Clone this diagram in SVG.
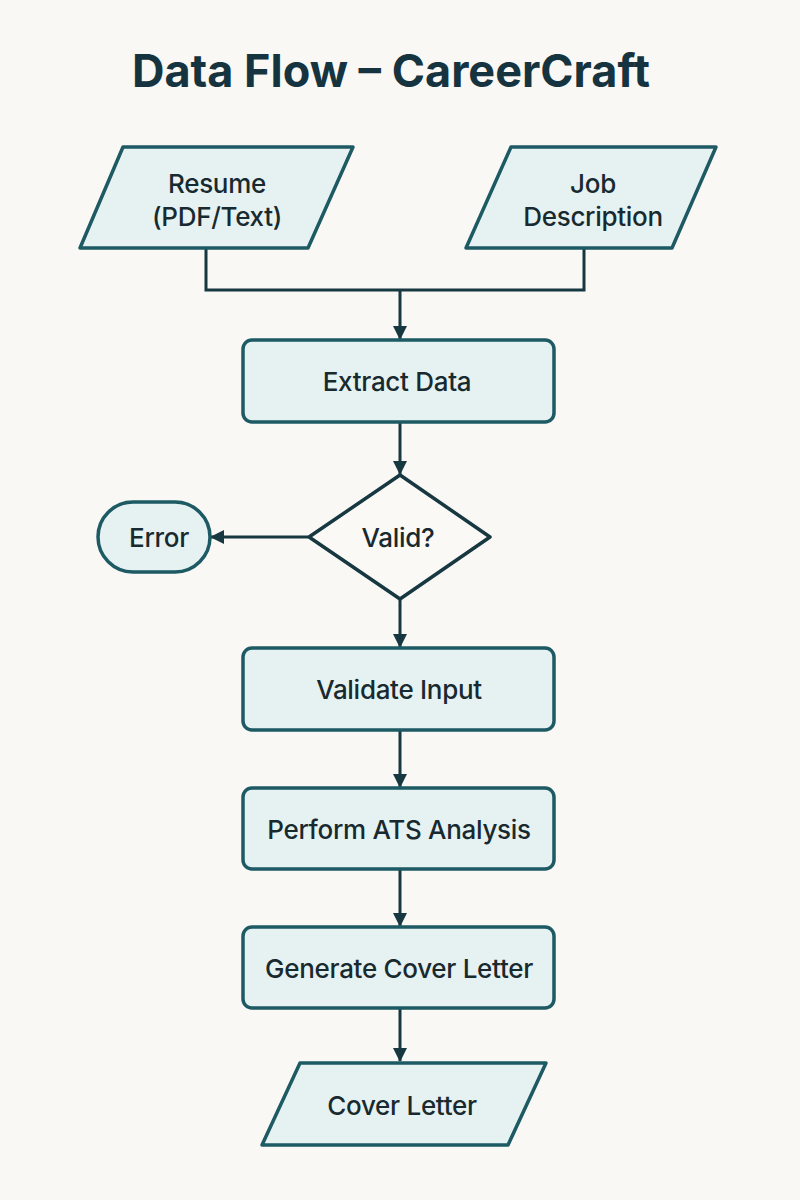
<svg xmlns="http://www.w3.org/2000/svg" width="800" height="1200" viewBox="0 0 800 1200">
<defs>
<style>
.node{fill:#e6f2f1;stroke:#1d5a64;stroke-width:3.5;stroke-linejoin:round}
.dec{fill:#faf9f5;stroke:#173741;stroke-width:3.5;stroke-linejoin:round}
.lbl{font-family:Inter,"Open Sans","Liberation Sans",sans-serif;font-size:26px;font-weight:500;fill:#182a30;text-anchor:middle;dominant-baseline:central;letter-spacing:-0.3px}
.conn{fill:none;stroke:#173741;stroke-width:3;marker-end:url(#ah)}
.line{fill:none;stroke:#173741;stroke-width:3}
</style>
<marker id="ah" markerWidth="14" markerHeight="14" refX="13" refY="7" orient="auto" markerUnits="userSpaceOnUse" viewBox="0 0 14 14">
<path d="M0,0 L14,7 L0,14 Z" fill="#173741"/>
</marker>
</defs>
<rect width="800" height="1200" fill="#f9f8f4"/>
<text x="391" y="70" font-family="Inter,'Open Sans','Liberation Sans',sans-serif" font-size="45" font-weight="bold" fill="#16343f" text-anchor="middle" dominant-baseline="central">Data Flow – CareerCraft</text>

<g id="connectors">
<polyline class="line" points="206,248 206,290 584,290 584,248"/>
<line class="conn" x1="400" y1="290" x2="400" y2="339"/>
<line class="conn" x1="400" y1="422" x2="400" y2="474"/>
<line class="conn" x1="308" y1="537" x2="211" y2="537"/>
<line class="conn" x1="400" y1="599" x2="400" y2="647"/>
<line class="conn" x1="400" y1="730" x2="400" y2="787"/>
<line class="conn" x1="400" y1="869" x2="400" y2="926"/>
<line class="conn" x1="400" y1="1008" x2="400" y2="1061"/>
</g>

<g id="resume">
<polygon class="node" points="123,147 353,147 308,248 80,248"/>
<text class="lbl" x="217" y="183">Resume</text>
<text class="lbl" x="217" y="216">(PDF/Text)</text>
</g>
<g id="jobdesc">
<polygon class="node" points="511,147 716,147 672,248 466,248"/>
<text class="lbl" x="593" y="183">Job</text>
<text class="lbl" x="593" y="216">Description</text>
</g>
<g id="extract">
<rect class="node" x="243" y="340" width="311" height="82" rx="9"/>
<text class="lbl" x="397" y="381">Extract Data</text>
</g>
<g id="valid">
<polygon class="dec" points="400,475 490,537 400,599 309,537"/>
<text class="lbl" x="398" y="537">Valid?</text>
</g>
<g id="error">
<rect class="node" x="98" y="502" width="112" height="70" rx="35"/>
<text class="lbl" x="159" y="537">Error</text>
</g>
<g id="validate">
<rect class="node" x="243" y="648" width="311" height="82" rx="9"/>
<text class="lbl" x="399" y="689">Validate Input</text>
</g>
<g id="ats">
<rect class="node" x="243" y="788" width="311" height="81" rx="9"/>
<text class="lbl" x="399" y="829">Perform ATS Analysis</text>
</g>
<g id="generate">
<rect class="node" x="243" y="927" width="311" height="81" rx="9"/>
<text class="lbl" x="399" y="968">Generate Cover Letter</text>
</g>
<g id="coverletter">
<polygon class="node" points="300,1063 546,1063 508,1145 262,1145"/>
<text class="lbl" x="402" y="1105">Cover Letter</text>
</g>
</svg>
